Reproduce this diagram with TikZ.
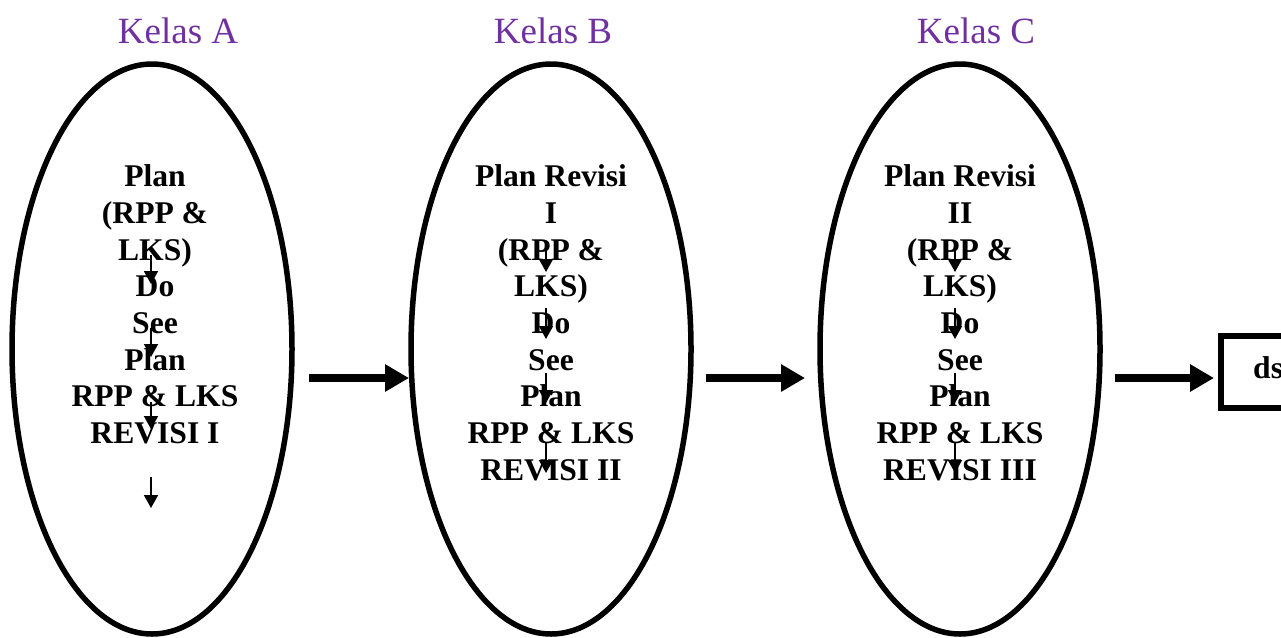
\documentclass[tikz,border=0pt]{standalone}
\usepackage{fontspec}
\setmainfont{Liberation Serif}
\usetikzlibrary{arrows.meta,shapes.geometric}
\definecolor{kelas}{HTML}{7030A0}
\begin{document}
\begin{tikzpicture}[x=1pt,y=-1pt,
  oval/.style={draw,line width=5.5pt,ellipse,minimum width=280pt,minimum height=570pt,inner sep=0pt},
  body/.style={font=\fontsize{31.6}{36.7}\selectfont\bfseries,align=center,inner sep=0pt,anchor=north},
  klabel/.style={font=\fontsize{37}{44}\selectfont,text=kelas,inner sep=0pt,anchor=base},
  smallarr/.style={line width=1.8pt,-{Triangle[length=13pt,width=14pt]}},
  bigarr/.style={line width=8pt,-{Triangle[length=24pt,width=26pt]}},
  boxst/.style={draw,line width=5.5pt,inner sep=0pt,minimum width=140pt,minimum height=72pt,anchor=west}
]
\useasboundingbox (0,0) rectangle (1281,637);
\clip (0,0) rectangle (1281,637);
\fill[white] (0,0) rectangle (1281,637);

% ovals
\node[oval] (ea) at (152,349) {};
\node[oval] (eb) at (551,349) {};
\node[oval] (ec) at (960,349) {};

% titles
\node[klabel] (ka) at (178,43) {Kelas A};
\node[klabel] (kb) at (553,43) {Kelas B};
\node[klabel] (kc) at (976,43) {Kelas C};

% texts
\node[body] (ta) at (155,164.5) {Plan\\(RPP \&\\LKS)\\Do\\See\\Plan\\RPP \& LKS\\REVISI I};
\node[body] (tb) at (551,164.5) {Plan Revisi\\I\\(RPP \&\\LKS)\\Do\\See\\Plan\\RPP \& LKS\\REVISI II};
\node[body] (tc) at (960,164.5) {Plan Revisi\\II\\(RPP \&\\LKS)\\Do\\See\\Plan\\RPP \& LKS\\REVISI III};

% small arrows A
\coordinate (a1s) at (151,255); \coordinate (a1e) at (151,284);
\coordinate (a2s) at (151,328); \coordinate (a2e) at (151,357);
\coordinate (a3s) at (151,402); \coordinate (a3e) at (151,429);
\coordinate (a4s) at (151,477); \coordinate (a4e) at (151,508);
\draw[smallarr] (a1s) -- (a1e);
\draw[smallarr] (a2s) -- (a2e);
\draw[smallarr] (a3s) -- (a3e);
\draw[smallarr] (a4s) -- (a4e);

% small arrows B
\coordinate (b1s) at (546,242); \coordinate (b1e) at (546,272);
\coordinate (b2s) at (546,308); \coordinate (b2e) at (546,339);
\coordinate (b3s) at (546,373); \coordinate (b3e) at (546,403);
\coordinate (b4s) at (546,442); \coordinate (b4e) at (546,473);
\draw[smallarr] (b1s) -- (b1e);
\draw[smallarr] (b2s) -- (b2e);
\draw[smallarr] (b3s) -- (b3e);
\draw[smallarr] (b4s) -- (b4e);

% small arrows C
\coordinate (c1s) at (955,242); \coordinate (c1e) at (955,272);
\coordinate (c2s) at (955,308); \coordinate (c2e) at (955,339);
\coordinate (c3s) at (955,373); \coordinate (c3e) at (955,403);
\coordinate (c4s) at (955,442); \coordinate (c4e) at (955,473);
\draw[smallarr] (c1s) -- (c1e);
\draw[smallarr] (c2s) -- (c2e);
\draw[smallarr] (c3s) -- (c3e);
\draw[smallarr] (c4s) -- (c4e);

% box
\node[boxst] (box) at (1218,372) {};
\node[font=\fontsize{31.6}{36.7}\selectfont\bfseries,inner sep=0pt,anchor=base west] (ds) at (1253,378) {ds};

% big arrows
\coordinate (g1s) at (309,378); \coordinate (g1e) at (409,378);
\coordinate (g2s) at (706,378); \coordinate (g2e) at (805,378);
\coordinate (g3s) at (1115,378); \coordinate (g3e) at (1214,378);
\draw[bigarr] (g1s) -- (g1e);
\draw[bigarr] (g2s) -- (g2e);
\draw[bigarr] (g3s) -- (g3e);
\end{tikzpicture}
\end{document}
